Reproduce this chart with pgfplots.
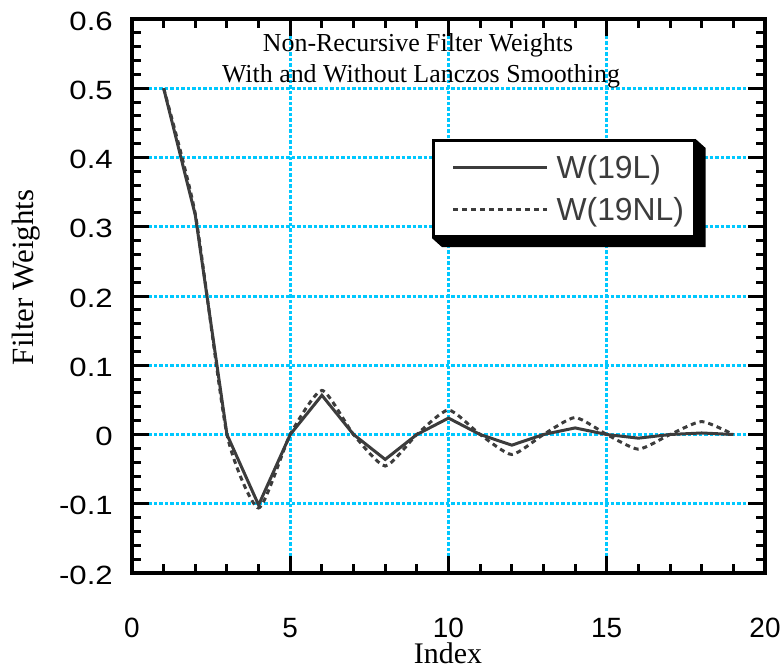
\documentclass[border=0pt]{standalone}
\usepackage{fontspec}
\setmainfont{Liberation Serif}
\setsansfont{Liberation Sans}
\newfontfamily\ytickfont[FakeStretch=1.18]{Liberation Sans}
\usepackage{pgfplots}
\pgfplotsset{compat=1.18}
\definecolor{gridcyan}{RGB}{0,200,255}
\definecolor{linegray}{RGB}{60,60,60}
\begin{document}
\begin{tikzpicture}
\useasboundingbox (-132bp,-95bp) rectangle (651bp,573bp);
\begin{axis}[
  scale only axis, width=633bp, height=554bp,
  xmin=0, xmax=20, ymin=-0.2, ymax=0.6,
  xtick={0,5,10,15,20}, xticklabels={0,5,10,15,20},
  ytick={-0.2,-0.1,0,0.1,0.2,0.3,0.4,0.5,0.6},
  yticklabels={-0.2,-0.1,0,0.1,0.2,0.3,0.4,0.5,0.6},
  minor x tick num=4, minor y tick num=4,
  tick align=inside,
  major tick length=17bp, minor tick length=9bp,
  tick style={black, line width=3bp},
  axis line style={line width=3.5bp},
  grid=major,
  major grid style={gridcyan, line width=3bp, dash pattern=on 3.5bp off 2bp},
  xticklabel style={font=\sffamily\fontsize{28}{30}\selectfont, anchor=base, inner sep=0pt, yshift=-64bp},
  yticklabel style={font=\ytickfont\fontsize{26.5}{30}\selectfont, anchor=east, inner sep=0pt, xshift=-19bp, yshift=-2bp},
  legend cell align=left,
  legend image code/.code={\path (0bp,0bp); \draw[#1] (8bp,0bp) -- (102bp,0bp);},
  legend style={name=leg, at={(0.474,0.7834)}, anchor=north west, draw=black, line width=3bp, fill=white,
    font=\sffamily\fontsize{32}{36}\selectfont, text=linegray,
    inner xsep=10bp, inner ysep=15bp, row sep=17bp, column sep=8bp,
    nodes={inner sep=0pt}},
]
\addplot[linegray, line width=3bp] coordinates {
(1,0.5) (2,0.3168) (3,0) (4,-0.1018) (5,0) (6,0.0567) (7,0) (8,-0.0360) (9,0) (10,0.0237)
(11,0) (12,-0.0154) (13,0) (14,0.0095) (15,0) (16,-0.0053) (17,0) (18,0.0022) (19,0)};
\addlegendentry{W(19L)}
\addplot[linegray, line width=3bp, dash pattern=on 5bp off 4bp, smooth, tension=0.35] coordinates {
(1,0.5) (2,0.3183) (3,0) (4,-0.1061) (5,0) (6,0.0637) (7,0) (8,-0.0455) (9,0) (10,0.0354)
(11,0) (12,-0.0289) (13,0) (14,0.0245) (15,0) (16,-0.0212) (17,0) (18,0.0187) (19,0)};
\addlegendentry{W(19NL)}
\end{axis}
\fill[black] (leg.north east) -- ++(10bp,-9bp) -- ([xshift=10bp,yshift=-9bp]leg.south east)
  -- ([xshift=10bp,yshift=-9bp]leg.south west) -- (leg.south west) -- (leg.south east) -- cycle;
\node[font=\rmfamily\fontsize{26}{31}\selectfont, anchor=base] at (286bp,521bp) {Non-Recursive Filter Weights};
\node[font=\rmfamily\fontsize{26}{31}\selectfont, anchor=base] at (289bp,490bp) {With and Without Lanczos Smoothing};
\node[font=\rmfamily\fontsize{30}{34}\selectfont, anchor=base, inner sep=0pt] at (316bp,-90bp) {Index};
\node[font=\rmfamily\fontsize{31}{34}\selectfont, anchor=base, rotate=90] at (-98.5bp,295.5bp) {Filter Weights};
\end{tikzpicture}
\end{document}
